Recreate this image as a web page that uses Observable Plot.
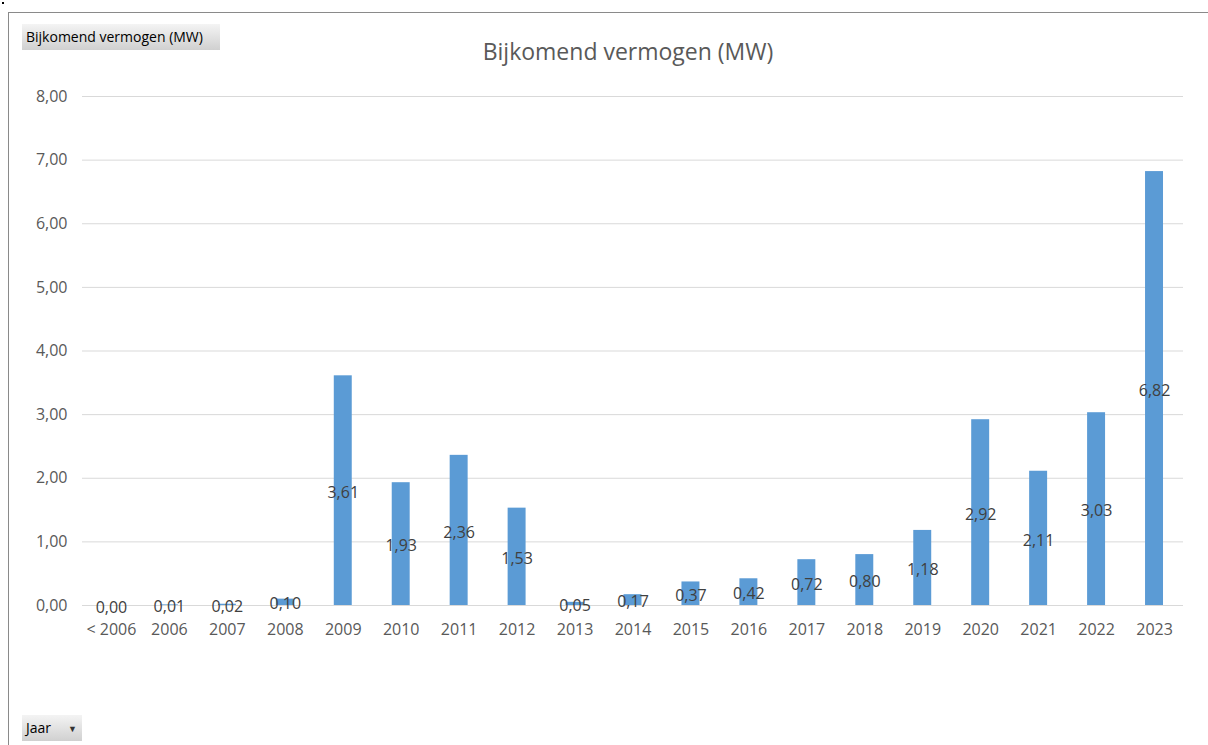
<!DOCTYPE html>
<html>
<head>
<meta charset="utf-8">
<script src="https://cdn.jsdelivr.net/npm/d3@7"></script>
<script src="https://cdn.jsdelivr.net/npm/@observablehq/plot@0.6"></script>
<style>
  html, body { margin: 0; padding: 0; background: #fff; }
  body { width: 1208px; height: 745px; position: relative; overflow: hidden; font-family: "Open Sans", sans-serif; }
  #frame { position: absolute; left: 8px; top: 12px; right: 0; bottom: -2px; border-top: 1px solid #8a8a8a; border-left: 1px solid #8a8a8a; }
  #dot { position: absolute; left: 2px; top: 2px; width: 2px; height: 2px; background: #000; }
  #title { position: absolute; left: 0; width: 1256px; top: 35px; text-align: center; font-size: 23px; color: #595959; }
  .btn { position: absolute; height: 26px; line-height: 26px; font-size: 14px; color: #000;
         background: linear-gradient(#f4f4f4, #d0d0d0); box-sizing: border-box; padding-left: 4px; }
  #btn1 { left: 22px; top: 24px; width: 198px; }
  #btn2 { left: 22px; top: 715px; width: 60px; }
  #btn2 span { font-size: 9px; margin-left: 17px; color: #333; vertical-align: 1px; }
  #chart { position: absolute; left: 0; top: 80px; }
</style>
</head>
<body>
<div id="frame"></div>
<div id="dot"></div>
<div class="btn" id="btn1">Bijkomend vermogen (MW)</div>
<div id="title">Bijkomend vermogen (MW)</div>
<div id="chart"></div>
<div class="btn" id="btn2">Jaar<span>▼</span></div>
<script>
const years = ["< 2006","2006","2007","2008","2009","2010","2011","2012","2013","2014","2015","2016","2017","2018","2019","2020","2021","2022","2023"];
const values = [0.00,0.01,0.02,0.10,3.61,1.93,2.36,1.53,0.05,0.17,0.37,0.42,0.72,0.80,1.18,2.92,2.11,3.03,6.82];
const yTicks = [0,1,2,3,4,5,6,7,8];

const data = years.map((y, i) => ({jaar: y, mw: values[i]}));
const fmt = v => d3.format(".2f")(v).replace(".", ",");

const chart = Plot.plot({
  width: 1208,
  height: 580,
  marginTop: 16,
  marginBottom: 55,
  marginLeft: 82,
  marginRight: 25,
  style: {fontFamily: "Open Sans, sans-serif", fontSize: "16px", color: "#595959", background: "transparent"},
  x: {domain: years, paddingInner: 0.69, paddingOuter: 0.345, round: false, label: null},
  y: {domain: [0, 8], label: null},
  marks: [
    Plot.gridY(yTicks, {stroke: "#d9d9d9", strokeOpacity: 1, strokeWidth: 1}),
    Plot.axisY(yTicks, {tickFormat: fmt, tickSize: 0, tickPadding: 15, fontSize: 16, fill: "#595959", label: null}),
    Plot.axisX({tickSize: 0, tickPadding: 18, fontSize: 16, fill: "#595959", label: null}),
    Plot.barY(data, {x: "jaar", y: "mw", fill: "#5b9bd5"}),
    Plot.text(data, {x: "jaar", y: d => d.mw / 2, text: d => fmt(d.mw), fill: "#404040", fontSize: 16, dy: 2})
  ]
});
document.getElementById("chart").appendChild(chart);
</script>
</body>
</html>
